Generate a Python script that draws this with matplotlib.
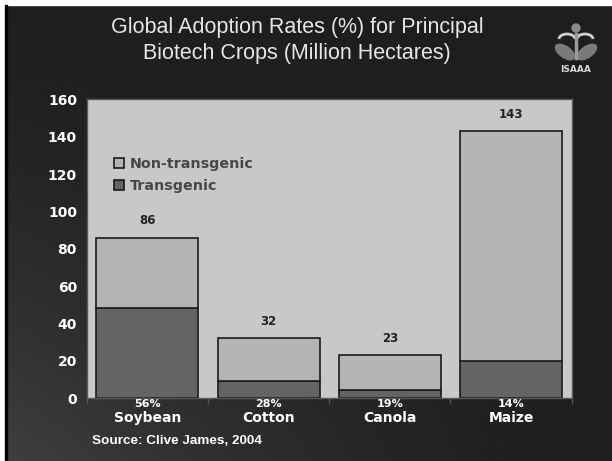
import numpy as np
import matplotlib.pyplot as plt
from matplotlib.patches import Rectangle, Ellipse, Circle, Arc

# Data (million hectares)
crops = ['Soybean', 'Cotton', 'Canola', 'Maize']
totals = [86, 32, 23, 143]
transgenic = [48, 9, 4.4, 20]
adoption = ['56%', '28%', '19%', '14%']
non_transgenic = [t - g for t, g in zip(totals, transgenic)]

W, H = 612, 461
fig = plt.figure(figsize=(W / 100, H / 100), dpi=100)

# slide background: dark, a bit lighter towards the bottom-left
bg = fig.add_axes([0, 0, 1, 1], zorder=-10)
xx, yy = np.meshgrid(np.linspace(0, 1, 300), np.linspace(0, 1, 230))
shade = 0.12 + 0.13 * (1 - xx) ** 1.5 * yy ** 1.5
bg.imshow(shade, cmap='gray', vmin=0, vmax=1, extent=[0, 1, 0, 1],
          aspect='auto', origin='upper')
bg.set_xlim(0, 1)
bg.set_ylim(0, 1)
bg.axis('off')
# white frame at top/left + thin black line
bg.add_patch(Rectangle((0, 1 - 5 / H), 1, 5 / H, color='white', zorder=5))
bg.add_patch(Rectangle((0, 0), 4.5 / W, 1, color='white', zorder=5))
bg.add_patch(Rectangle((4.5 / W, 0), 2 / W, 1 - 5 / H, color='black', zorder=5))

# title
fig.text(297 / W, 1 - 28 / H, 'Global Adoption Rates (%) for Principal',
         ha='center', va='center', color='#e6e6e6', fontsize=15.5,
         family='Liberation Sans')
fig.text(297 / W, 1 - 53 / H, 'Biotech Crops (Million Hectares)',
         ha='center', va='center', color='#e6e6e6', fontsize=15.5,
         family='Liberation Sans')

# ISAAA logo (rough sketch)
lg = fig.add_axes([548 / W, 1 - 78 / H, 56 / W, 58 / H])
lg.set_xlim(0, 56)
lg.set_ylim(58, 0)
lg.axis('off')
lg.add_patch(Circle((28, 8), 4, color='#8a8a8a'))
lg.add_patch(Ellipse((17, 32), 22, 11, angle=35, color='#7a7a7a'))
lg.add_patch(Ellipse((39, 32), 22, 11, angle=-35, color='#7a7a7a'))
lg.add_patch(Arc((19, 19), 16, 10, theta1=180, theta2=360, color='#d0d0d0', lw=2))
lg.add_patch(Arc((37, 19), 16, 10, theta1=180, theta2=360, color='#d0d0d0', lw=2))
lg.plot([28, 28], [14, 38], color='#9a9a9a', lw=2.5)
lg.text(28, 50, 'ISAAA', ha='center', va='center', color='#d8d8d8',
        fontsize=6.5, fontweight='bold')

# main chart
ax = fig.add_axes([86.7 / W, 1 - 398 / H, 485 / W, 298.5 / H])
ax.set_facecolor('#c8c8c8')
x = np.arange(len(crops))
b1 = ax.bar(x, transgenic, width=0.84, color='#646464', edgecolor='#1a1a1a',
            linewidth=1.2, label='Transgenic')
b2 = ax.bar(x, non_transgenic, bottom=transgenic, width=0.84, color='#b4b4b4',
            edgecolor='#1a1a1a', linewidth=1.2, label='Non-transgenic')

ax.set_xlim(-0.5, len(crops) - 0.5)
ax.set_ylim(0, 160)
ax.set_yticks(range(0, 161, 20))
ax.tick_params(axis='y', length=0, pad=7, labelsize=10, labelcolor='white')
for lab in ax.get_yticklabels():
    lab.set_fontweight('bold')
ax.set_xticks(np.arange(-0.5, len(crops), 1.0))
ax.set_xticklabels([])
ax.tick_params(axis='x', length=4, color='#555555', width=1)
for s in ax.spines.values():
    s.set_color('#5a5a5a')
    s.set_linewidth(1)

# totals above bars
for xi, t in zip(x, totals):
    ax.annotate(str(t), (xi, t), xytext=(0, 12), textcoords='offset points',
                ha='center', va='center', fontsize=8.5, fontweight='bold',
                color='#222222')

# adoption rate and crop name below
tr = ax.get_xaxis_transform()
for xi, p, c in zip(x, adoption, crops):
    ax.text(xi, -0.019, p, transform=tr, ha='center', va='center',
            fontsize=8, fontweight='bold', color='white')
    ax.text(xi, -0.067, c, transform=tr, ha='center', va='center',
            fontsize=10, fontweight='bold', color='white')

leg = ax.legend(handles=[b2, b1], loc='upper left', bbox_to_anchor=(0.03, 0.85),
                frameon=False, handlelength=0.7, handleheight=0.7,
                handletextpad=0.4, labelspacing=0.55,
                prop={'weight': 'bold', 'size': 10.3})
for t in leg.get_texts():
    t.set_color('#474747')

fig.text(92 / W, 1 - 441 / H, 'Source: Clive James, 2004', ha='left',
         va='center', color='white', fontsize=9.7, fontweight='bold',
         family='Liberation Sans')

fig.savefig('out.png', dpi=100)
